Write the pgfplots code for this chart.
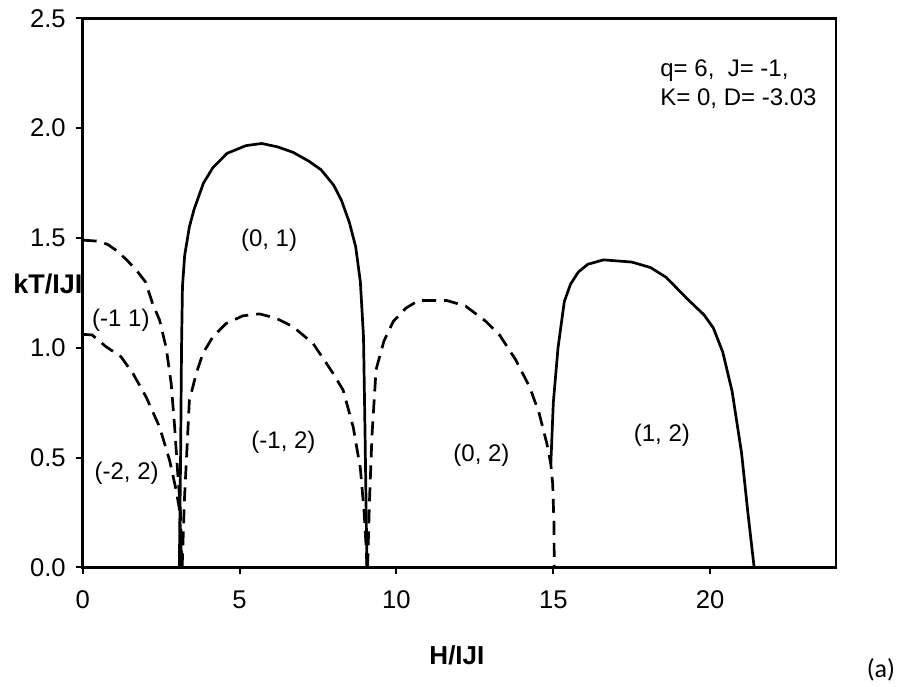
\documentclass[border=0pt]{standalone}
\usepackage{fontspec}
\setmainfont{Liberation Sans}
\newfontfamily\calibri{Carlito}
\usepackage{pgfplots}
\pgfplotsset{compat=1.18}
\begin{document}
\begin{tikzpicture}
\begin{axis}[
  scale only axis, width=376.5pt, height=274.5pt,
  xmin=0, xmax=24, ymin=0, ymax=2.5,
  xtick={0,5,10,15,20}, ytick={0,0.5,1,1.5,2,2.5},
  y tick label style={/pgf/number format/.cd, fixed, fixed zerofill, precision=1, /tikz/.cd},
  /pgf/number format/assume math mode=true,
  tick align=outside, tick pos=left, major tick length=3.5pt,
  axis line style={line width=1.2pt},
  every tick/.style={line width=1pt, black},
  tick label style={font=\fontsize{12.8}{14}\selectfont},
  xticklabel style={yshift=-4pt, text height=9.5pt, text depth=0pt},
  yticklabel style={xshift=-1.5pt},
  xlabel={\textbf{H/IJI}},
  xlabel style={at={(rel axis cs:0.497,0)}, anchor=center, yshift=-44pt, font=\fontsize{13}{15}\selectfont},
  ylabel={\textbf{kT/IJI}},
  ylabel style={rotate=-90, at={(rel axis cs:0,0.516)}, anchor=east, inner sep=0pt, font=\fontsize{13.5}{15}\selectfont},
  clip=false,
  sol/.style={solid, no markers, black, line width=1.35pt, line join=round},
  dsh/.style={no markers, black, line width=1.35pt, dash pattern=on 7pt off 4pt},
]
% (-1 1) boundary, dashed
\addplot[dsh] coordinates {
(0,1.49) (0.5,1.485) (0.8,1.47) (1.1,1.44) (1.4,1.40) (1.7,1.355) (2.0,1.30) (2.23,1.20) (2.45,1.126) (2.66,1.0) (2.82,0.837) (2.93,0.64) (3.03,0.426) (3.11,0.274) (3.14,0.12) (3.16,0)
};
% (-2 2) boundary, dashed
\addplot[dsh] coordinates {
(0,1.061) (0.3,1.058) (0.74,1.005) (1.22,0.959) (1.6,0.883) (2.02,0.776) (2.45,0.639) (2.77,0.487) (2.98,0.35) (3.09,0.259) (3.13,0.1) (3.14,0)
};
% (0,1) dome, solid
\addplot[sol] coordinates {
(3.08,0) (3.12,0.5) (3.15,1.0) (3.18,1.28) (3.25,1.42) (3.4,1.55) (3.55,1.63) (3.85,1.75) (4.15,1.82) (4.6,1.885) (5.2,1.92) (5.7,1.93) (6.2,1.915) (6.7,1.89) (7.2,1.85) (7.6,1.81) (8.0,1.74) (8.25,1.67) (8.5,1.57) (8.7,1.46) (8.85,1.30) (8.95,1.05) (9.0,0.6) (9.04,0.2) (9.06,0)
};
% (-1,2) dome, dashed
\addplot[dsh] coordinates {
(3.17,0) (3.24,0.30) (3.40,0.76) (3.62,0.883) (3.83,0.974) (4.15,1.05) (4.57,1.11) (5.1,1.145) (5.64,1.154) (6.17,1.134) (6.70,1.096) (7.34,1.02) (7.98,0.883) (8.30,0.807) (8.62,0.64) (8.85,0.45) (8.97,0.25) (9.03,0.1) (9.06,0)
};
% (0,2) dome, dashed
\addplot[dsh] coordinates {
(9.08,0) (9.14,0.3) (9.22,0.6) (9.35,0.9) (9.6,1.03) (9.9,1.12) (10.3,1.18) (10.7,1.215) (11.6,1.215) (12.2,1.19) (12.85,1.12) (13.3,1.055) (13.8,0.945) (14.25,0.82) (14.55,0.70) (14.8,0.56) (14.92,0.47) (14.98,0.38) (15.02,0.2) (15.03,0)
};
% (1,2) dome, solid
\addplot[sol] coordinates {
(14.92,0.47) (15.0,0.75) (15.15,1.0) (15.35,1.21) (15.55,1.29) (15.8,1.345) (16.1,1.38) (16.6,1.40) (17.5,1.39) (18.1,1.365) (18.6,1.32) (19.25,1.225) (19.8,1.15) (20.1,1.09) (20.4,0.98) (20.7,0.80) (21.0,0.52) (21.2,0.25) (21.4,0)
};
\begin{scope}[every node/.style={font=\fontsize{12}{14}\selectfont, inner sep=0pt}]
\node at (axis cs:5.94,1.49) {(0, 1)};
\node[anchor=west] at (axis cs:0.29,1.123) {(-1 1)};
\node at (axis cs:6.40,0.570) {(-1, 2)};
\node at (axis cs:1.40,0.43) {(-2, 2)};
\node at (axis cs:12.71,0.51) {(0, 2)};
\node at (axis cs:18.46,0.603) {(1, 2)};
\node[anchor=west, align=left, font=\fontsize{12}{14.4}\selectfont] at (axis cs:18.4,2.2) {q= 6,\ \ J= -1,\\K= 0, D= -3.03};
\end{scope}
\node[font=\calibri\fontsize{13}{15}\selectfont, inner sep=0pt] at (rel axis cs:1.060,-0.187) {(a)};
\end{axis}
\path[use as bounding box] (-41.35pt,-59.35pt) rectangle (416.15pt,283.65pt);
\end{tikzpicture}
\end{document}
